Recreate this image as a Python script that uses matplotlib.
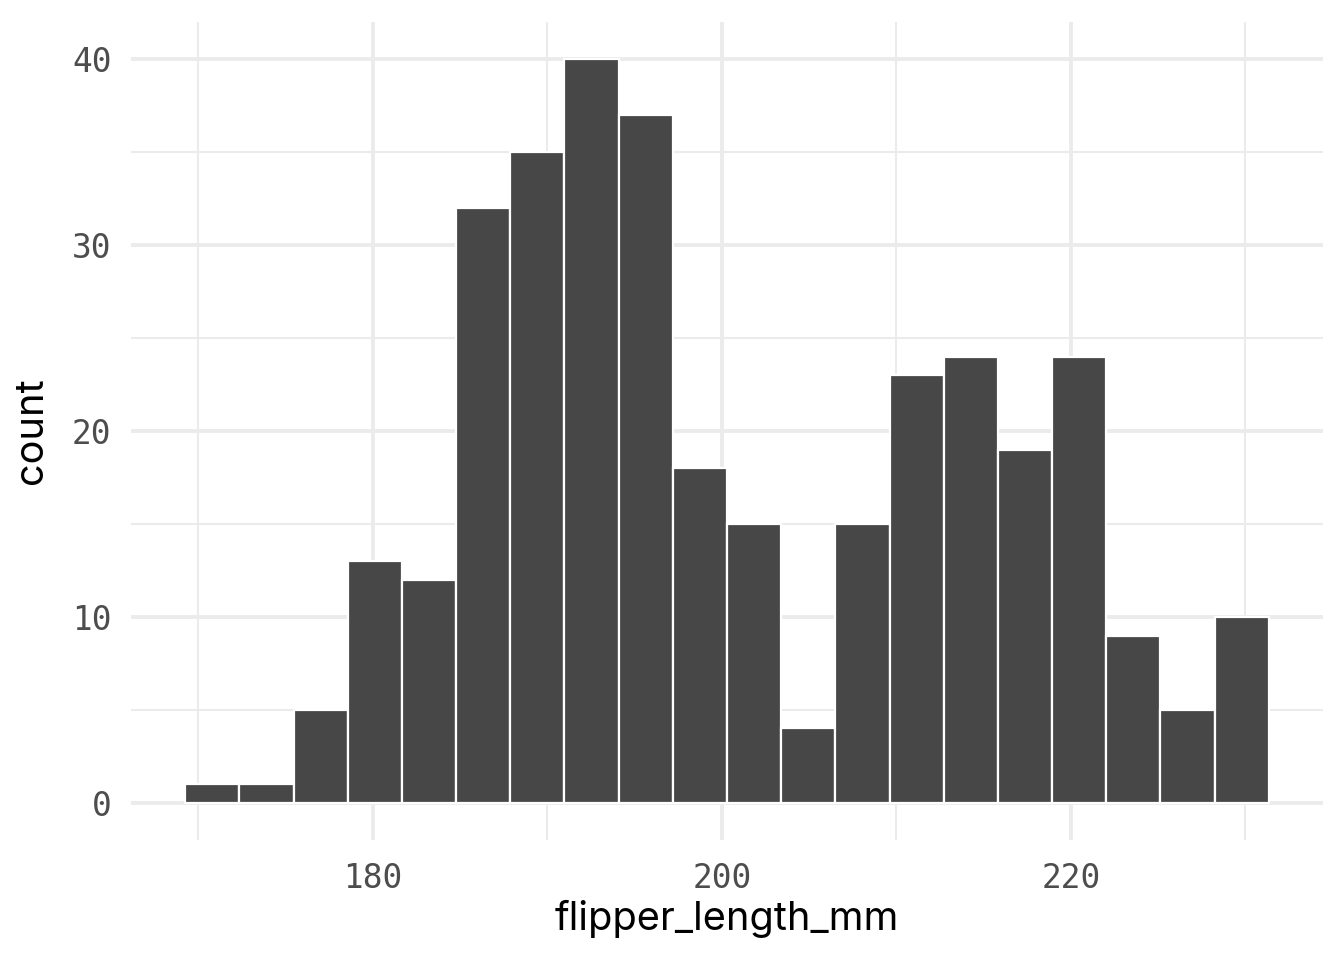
import matplotlib
matplotlib.use("Agg")
import matplotlib.pyplot as plt
import numpy as np

# Data: histogram of flipper_length_mm (20 bins)
counts = [1, 1, 5, 13, 12, 32, 35, 40, 37, 18, 15, 4, 15, 23, 24, 19, 24, 9, 5, 10]
bin_origin = 169.24
bin_width = 3.105
x_major = [180, 200, 220]
x_minor = [170, 190, 210, 230]
y_major = [0, 10, 20, 30, 40]
y_minor = [5, 15, 25, 35]
x_label = "flipper_length_mm"
y_label = "count"

edges = bin_origin + bin_width * np.arange(len(counts) + 1)

fig = plt.figure(figsize=(6.72, 4.8), dpi=200)
ax = fig.add_axes([131/1344, 1 - 840/960, (1323-131)/1344, (840-22)/960])

grid_col = "#EBEBEB"
for v in x_minor:
    ax.axvline(v, color=grid_col, lw=0.75, zorder=0)
for v in y_minor:
    ax.axhline(v, color=grid_col, lw=0.75, zorder=0)
for v in x_major:
    ax.axvline(v, color=grid_col, lw=1.4, zorder=0)
for v in y_major:
    ax.axhline(v, color=grid_col, lw=1.4, zorder=0)

ax.bar(edges[:-1], counts, width=bin_width, align="edge",
       color="#474747", edgecolor="white", linewidth=0.8, zorder=2)

xr = edges[-1] - edges[0]
ax.set_xlim(edges[0] - 0.05 * xr, edges[-1] + 0.05 * xr)
ax.set_ylim(-2, 42)

ax.set_xticks(x_major)
ax.set_yticks(y_major)
ax.set_xticklabels([str(v) for v in x_major])
ax.set_yticklabels([str(v) for v in y_major])
for lab in ax.get_xticklabels() + ax.get_yticklabels():
    lab.set_fontfamily("DejaVu Sans Mono")
    lab.set_fontsize(11.8)
    lab.set_color("#4D4D4D")
ax.tick_params(axis="y", length=0, pad=7)
ax.tick_params(axis="x", length=0, pad=8)

for s in ax.spines.values():
    s.set_visible(False)

ax.set_xlabel(x_label, fontsize=14.3, family="Inter", color="black", labelpad=1.5)
ax.set_ylabel(y_label, fontsize=14.3, family="Inter", color="black", labelpad=8)

fig.savefig("out.png", dpi=200, facecolor="white")
